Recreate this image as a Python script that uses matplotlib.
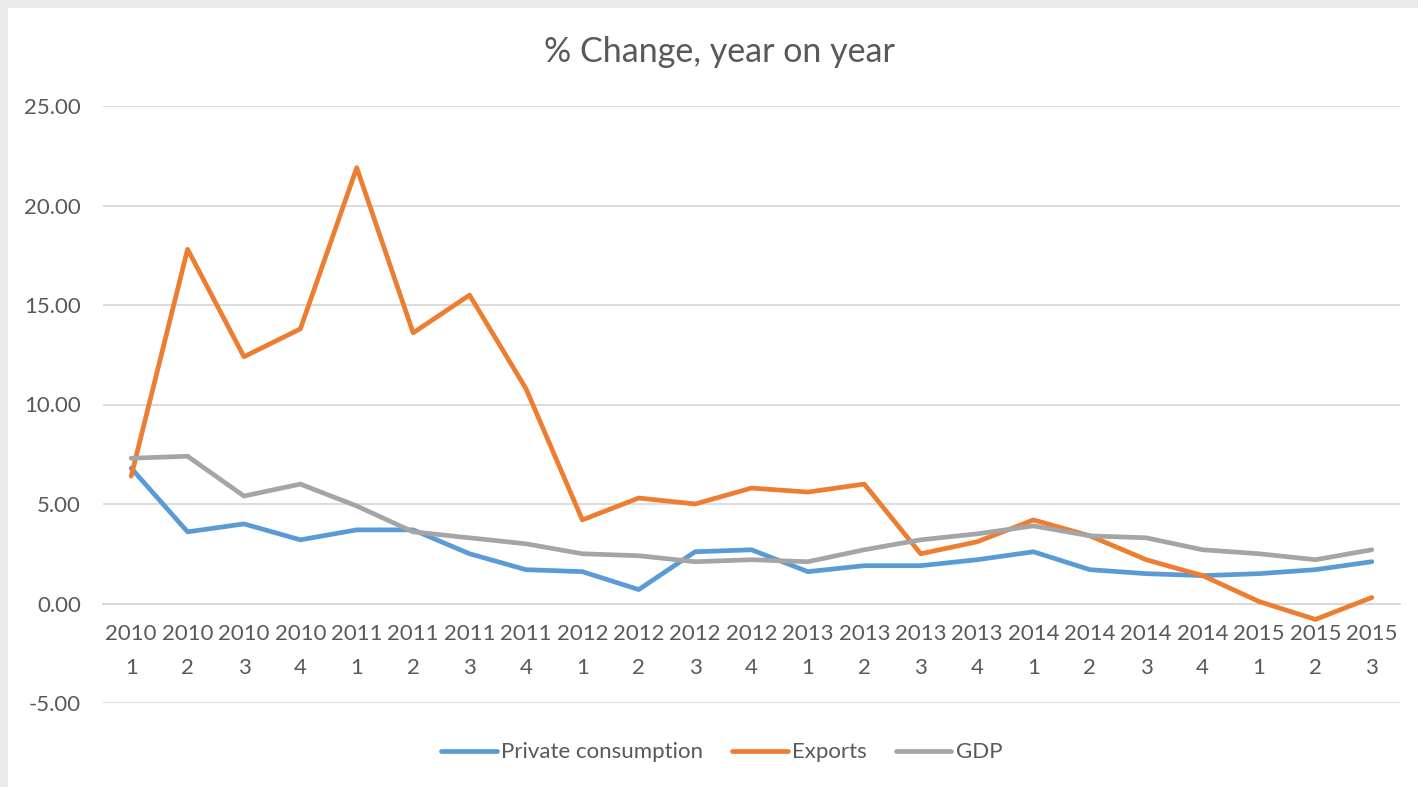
import matplotlib
matplotlib.use("Agg")
import matplotlib.pyplot as plt
from matplotlib.patches import Rectangle

# quarterly year-on-year % change, 2010 Q1 .. 2015 Q3
years = [2010] * 4 + [2011] * 4 + [2012] * 4 + [2013] * 4 + [2014] * 4 + [2015] * 3
quarters = [1, 2, 3, 4] * 5 + [1, 2, 3]

private_consumption = [6.8, 3.6, 4.0, 3.2, 3.7, 3.7, 2.5, 1.7, 1.6, 0.7, 2.6, 2.7,
                       1.6, 1.9, 1.9, 2.2, 2.6, 1.7, 1.5, 1.4, 1.5, 1.7, 2.1]
exports = [6.4, 17.8, 12.4, 13.8, 21.9, 13.6, 15.5, 10.8, 4.2, 5.3, 5.0, 5.8,
           5.6, 6.0, 2.5, 3.1, 4.2, 3.4, 2.2, 1.4, 0.1, -0.8, 0.3]
gdp = [7.3, 7.4, 5.4, 6.0, 4.9, 3.6, 3.3, 3.0, 2.5, 2.4, 2.1, 2.2,
       2.1, 2.7, 3.2, 3.5, 3.9, 3.4, 3.3, 2.7, 2.5, 2.2, 2.7]

series_names = ["Private consumption", "Exports", "GDP"]
series_colors = ["#5B9BD5", "#ED7D31", "#A5A5A5"]
y_ticks = [-5, 0, 5, 10, 15, 20, 25]

TEXT = "#595959"
GRID = "#D9D9D9"

plt.rcParams["font.family"] = ["Lato", "DejaVu Sans"]

fig = plt.figure(figsize=(14.18, 7.87), dpi=100)
fig.patch.set_facecolor("#EBEBEB")
fig.add_artist(Rectangle((8 / 1418, 0), 1, 1 - 8 / 787, transform=fig.transFigure,
                         facecolor="white", edgecolor="none", zorder=-10))

ax = fig.add_axes([103 / 1418, 1 - 703 / 787, 1297 / 1418, 597 / 787])
x = list(range(len(years)))
for vals, name, col in zip([private_consumption, exports, gdp], series_names, series_colors):
    ax.plot(x, vals, color=col, lw=3.4, label=name, solid_capstyle="round",
            solid_joinstyle="round", zorder=3)

ax.set_xlim(-0.5, len(years) - 0.5)
ax.set_ylim(-5, 25)
ax.set_yticks(y_ticks)
ax.set_yticklabels([f"{v:.2f}" for v in y_ticks])
ax.yaxis.grid(True, color=GRID, lw=1.3)
ax.set_axisbelow(True)

ax.set_xticks(x)
ax.set_xticklabels([f"{y}\n{q}" for y, q in zip(years, quarters)])

for side in ["left", "right", "top"]:
    ax.spines[side].set_visible(False)
ax.spines["bottom"].set_position(("data", 0))
ax.spines["bottom"].set_color(GRID)
ax.spines["bottom"].set_linewidth(1.3)
ax.tick_params(axis="both", length=0, labelsize=16, labelcolor=TEXT)
ax.tick_params(axis="x", pad=15)
ax.tick_params(axis="y", pad=16)
for lbl in ax.get_xticklabels():
    lbl.set_linespacing(1.85)

fig.text(0.5075, 0.934, "% Change, year on year", ha="center", va="center",
         fontsize=24.5, color=TEXT)

fig.legend(loc="center", bbox_to_anchor=(0.509, 0.044), ncol=3, frameon=False,
           fontsize=16, labelcolor=TEXT, handlelength=2.5, handletextpad=0.2,
           columnspacing=1.3)

fig.savefig("out.png", dpi=100, facecolor=fig.get_facecolor())
